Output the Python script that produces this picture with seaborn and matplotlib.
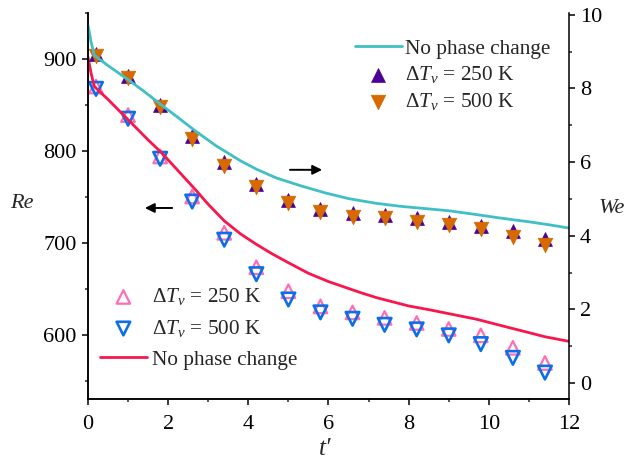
import matplotlib
matplotlib.use("Agg")
import matplotlib.pyplot as plt
from matplotlib.ticker import MultipleLocator
import seaborn as sns
import pandas as pd

# ---------------- data ----------------
t_markers = [0.2, 1.0, 1.8, 2.6, 3.4, 4.2, 5.0, 5.8, 6.6, 7.4, 8.2, 9.0, 9.8, 10.6, 11.4]

# Re (left axis), open markers
re_250 = [870, 839, 794, 750.5, 711, 673.5, 647.5, 631, 624.5, 618.5, 613, 606.5, 599.5, 586, 569.5]
re_500 = [867.5, 835, 791.5, 745, 703.5, 666, 638.5, 624.5, 617.5, 611, 606, 599.5, 590, 575, 559]

# Re (left axis), no phase change line
t_re_line = [0, 0.08, 0.16, 0.5, 1.0, 1.5, 1.86, 2.3, 2.7, 3.0, 3.4, 3.8, 4.2, 4.6, 5.0,
             5.5, 6.0, 6.4, 6.8, 7.2, 7.6, 8.0, 8.5, 8.9, 9.3, 9.7, 10.1, 10.5, 11.0, 11.4, 12.0]
re_line = [902, 884, 870, 856, 834, 812, 797, 776, 757, 742, 724, 710, 698.5, 688, 678.5,
           667, 658, 652, 646, 640.5, 636, 631.5, 627.5, 624, 620.5, 617, 612.5, 608, 602.5, 598, 593]

# We (right axis), filled markers
we_250 = [8.93, 8.34, 7.55, 6.71, 6.0, 5.41, 4.97, 4.72, 4.62, 4.57, 4.48, 4.38, 4.27, 4.13, 3.92]
we_500 = [8.88, 8.28, 7.50, 6.63, 5.90, 5.33, 4.89, 4.65, 4.51, 4.48, 4.38, 4.29, 4.19, 3.97, 3.76]

# We (right axis), no phase change line
t_we_line = [0, 0.08, 0.16, 0.5, 1.0, 1.4, 1.8, 2.2, 2.7, 3.2, 3.8, 4.2, 4.7, 5.3, 5.9,
             6.5, 7.2, 7.8, 8.5, 9.0, 9.6, 10.3, 11.0, 11.5, 12.0]
we_line = [9.72, 9.25, 8.9, 8.62, 8.24, 7.92, 7.58, 7.25, 6.83, 6.44, 6.04, 5.81, 5.57, 5.36, 5.17,
           5.01, 4.88, 4.80, 4.73, 4.68, 4.59, 4.48, 4.38, 4.30, 4.21]

label_npc = "No phase change"
label_250 = r"$\Delta T_v$ = 250 K"
label_500 = r"$\Delta T_v$ = 500 K"

# ---------------- style ----------------
sns.set_style("ticks")
plt.rcParams["font.family"] = ["Liberation Serif", "DejaVu Serif"]
plt.rcParams["mathtext.fontset"] = "custom"
plt.rcParams["mathtext.rm"] = "Liberation Serif"
plt.rcParams["mathtext.it"] = "Liberation Serif:italic"
plt.rcParams["font.size"] = 15

c_cyan = "#40BFC4"
c_red = "#F8164C"
c_purple = "#4B0096"
c_orange = "#D66A00"
c_pink = "#FF6EB4"
c_blue = "#0D6EEA"

fig = plt.figure(figsize=(6.32, 4.62), dpi=100)
ax = fig.add_axes([0.1392, 0.1357, 0.7611, 0.8362])
ax2 = ax.twinx()

df_m = pd.DataFrame({"t": t_markers, "re250": re_250, "re500": re_500,
                     "we250": we_250, "we500": we_500})
df_re = pd.DataFrame({"t": t_re_line, "v": re_line})
df_we = pd.DataFrame({"t": t_we_line, "v": we_line})

# Left axis (Re)
sns.lineplot(data=df_re, x="t", y="v", ax=ax, color=c_red, lw=2.0,
             label=label_npc, legend=False)
sns.scatterplot(data=df_m, x="t", y="re250", ax=ax, marker="^", s=95,
                facecolors="none", edgecolor=c_pink, linewidth=1.6,
                label=label_250, legend=False)
sns.scatterplot(data=df_m, x="t", y="re500", ax=ax, marker="v", s=95,
                facecolors="none", edgecolor=c_blue, linewidth=1.9,
                label=label_500, legend=False)

# Right axis (We)
sns.lineplot(data=df_we, x="t", y="v", ax=ax2, color=c_cyan, lw=2.0,
             label=label_npc, legend=False)
sns.scatterplot(data=df_m, x="t", y="we250", ax=ax2, marker="^", s=100,
                color=c_purple, edgecolor=c_purple, linewidth=0.5,
                label=label_250, legend=False)
sns.scatterplot(data=df_m, x="t", y="we500", ax=ax2, marker="v", s=110,
                color=c_orange, edgecolor=c_orange, linewidth=0.5,
                label=label_500, legend=False)

# Axes limits & ticks
ax.set_xlim(0, 12)
ax.set_ylim(530, 950)
ax2.set_ylim(-0.44, 10.05)
ax.xaxis.set_major_locator(MultipleLocator(2))
ax.xaxis.set_minor_locator(MultipleLocator(1))
ax.yaxis.set_major_locator(MultipleLocator(100))
ax.yaxis.set_minor_locator(MultipleLocator(50))
ax2.yaxis.set_major_locator(MultipleLocator(2))
ax2.yaxis.set_minor_locator(MultipleLocator(1))

for a in (ax, ax2):
    a.spines["top"].set_visible(False)
    for s in a.spines.values():
        s.set_linewidth(1.1)
        s.set_color("black")
    a.tick_params(which="major", direction="out", length=4, width=1.1,
                  labelsize=16, colors="black")
    a.tick_params(which="minor", direction="out", length=2.5, width=1.1)
ax.spines["right"].set_visible(False)
ax.tick_params(axis="x", pad=7.5)
ax.tick_params(axis="y", pad=4)
ax2.tick_params(axis="y", pad=4)

# Labels
ax.set_xlabel("t\u2032", fontstyle="italic", fontsize=18)
ax.xaxis.set_label_coords(0.493, -0.1)
ax.set_ylabel("Re", fontstyle="italic", rotation=0, fontsize=16, va="center", ha="center")
ax.yaxis.set_label_coords(-0.137, 0.508)
ax2.set_ylabel("We", fontstyle="italic", rotation=0, fontsize=16, va="center", ha="center")
ax2.yaxis.set_label_coords(1.089, 0.495)

# Legends
h1, l1 = ax.get_legend_handles_labels()
order1 = [1, 2, 0]
leg1 = ax.legend([h1[i] for i in order1], [l1[i] for i in order1],
                 loc="upper left", bbox_to_anchor=(0.025, 0.292),
                 frameon=False, borderpad=0, borderaxespad=0,
                 handlelength=2.2, handletextpad=0.25, labelspacing=0.5,
                 fontsize=15.3)
h2, l2 = ax2.get_legend_handles_labels()
leg2 = ax2.legend(h2, l2, loc="upper left", bbox_to_anchor=(0.555, 0.933),
                  frameon=False, borderpad=0, borderaxespad=0,
                  handlelength=2.2, handletextpad=0.15, labelspacing=0.27,
                  fontsize=15.3)

# Arrows indicating the axis of each group
ax.annotate("", xy=(1.35, 738), xytext=(2.17, 738),
            arrowprops=dict(arrowstyle="-|>", color="black", lw=1.4, mutation_scale=14))
ax.annotate("", xy=(5.91, 779.5), xytext=(4.97, 779.5),
            arrowprops=dict(arrowstyle="-|>", color="black", lw=1.4, mutation_scale=14))

fig.savefig("out.png", dpi=100)
